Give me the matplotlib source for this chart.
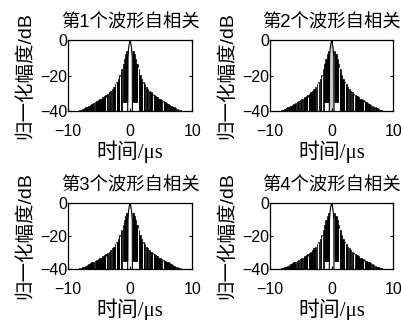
import numpy as np
import matplotlib
matplotlib.use('Agg')
import matplotlib.pyplot as plt

plt.rcParams['font.family'] = ['Liberation Sans', 'Noto Sans CJK SC']

titles = ['第1个波形自相关', '第2个波形自相关', '第3个波形自相关', '第4个波形自相关']
ylab = '归一化幅度/dB'
xlab = '时间/μs'

# sidelobe envelope (one side, mirrored)
off = [0.5, 0.7, 0.9, 1.1, 1.35, 1.6, 1.85, 2.1, 2.35, 2.6, 2.85, 3.1, 3.35, 3.6,
       3.85, 4.1, 4.35, 4.6, 4.85, 5.1, 5.35, 5.6, 5.85, 6.1, 6.35, 6.6, 6.85, 7.1,
       7.35, 7.6, 7.85, 8.1]
top = [-6, -8, -10.5, -13.5, -16.5, -19.5, -22, -23.5, -25, -26.5, -27.5, -28.5,
       -29.5, -30.2, -31, -31.5, -32.2, -33, -33.5, -34, -34.5, -35, -35.5, -36,
       -36.5, -37, -37.5, -38, -38.5, -39, -39.3, -39.6]
low = [-35, -35, -35, -35, -40, -40, -40, -40, -40, -40, -40, -40, -40, -40,
       -40, -40, -40, -40, -40, -40, -40, -40, -40, -40, -40, -40, -40, -40,
       -40, -40, -40, -40]

# main lobe outline
ml_x = [-0.38, -0.35, -0.25, -0.12, 0, 0.12, 0.25, 0.35, 0.38]
ml_y = [-40, -10, -5, -2, 0, -2, -5, -10, -40]

# thin white gaps
gap_x = [-3.8, -2.2, -1.6, 1.2, 2.1, 3.7, 5.3]
gap_top = [-32, -24, -20, -15, -24, -31, -35]

pos = [[0.169, 0.653, 0.309, 0.222],
       [0.672, 0.653, 0.306, 0.222],
       [0.169, 0.159, 0.309, 0.207],
       [0.672, 0.159, 0.306, 0.207]]

fig = plt.figure(figsize=(4.02, 3.2), dpi=100)
for i in range(4):
    ax = fig.add_axes(pos[i])
    xs = np.concatenate([-np.array(off), np.array(off)])
    tp = np.concatenate([top, top])
    lw_ = np.concatenate([low, low])
    ax.bar(xs, tp - lw_, bottom=lw_, width=0.22, color='black',
           edgecolor='black', linewidth=0.5)
    ax.vlines(gap_x, -40, gap_top, color='white', linewidth=0.7)
    ax.fill_between(ml_x, ml_y, -40, color='#c8c8c8' if i == 1 else 'white',
                    linewidth=0)
    ax.plot(ml_x, ml_y, color='black', linewidth=0.8)
    ax.set_xlim(-10, 10)
    ax.set_ylim(-40, 0)
    ax.set_xticks([-10, 0, 10])
    ax.set_yticks([-40, -20, 0])
    ax.tick_params(direction='in', length=2.5, width=0.8, top=True, right=True,
                   labelsize=11.5)
    ax.tick_params(axis='x', pad=9)
    ax.tick_params(axis='y', pad=0.5)
    for s in ax.spines.values():
        s.set_linewidth(0.9)
    ax.set_title(titles[i], fontsize=13.2, pad=9)
    ax.set_ylabel(ylab, fontsize=14, labelpad=4)
    ax.set_xlabel(xlab, fontsize=15, labelpad=1,
                  family=['Liberation Serif', 'Noto Sans CJK SC'])

fig.savefig('out.png', dpi=100)
